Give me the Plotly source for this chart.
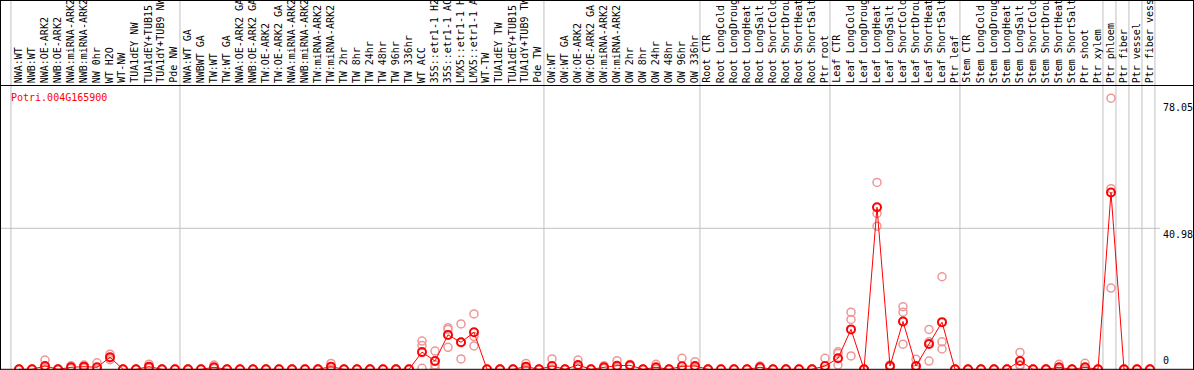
import plotly.graph_objects as go

# ---------------- data ----------------
categories = [
    "NWA:WT", "NWB:WT", "NWA:OE-ARK2", "NWB:OE-ARK2", "NWA:miRNA-ARK2", "NWB:miRNA-ARK2",
    "NW 0hr", "WT H2O", "WT-NW", "TUA1dEY NW", "TUA1dEY+TUB15 NW", "TUA1dY+TUB9 NW", "Pde NW",
    "NWA:WT GA", "NWBWT GA", "TW:WT", "TW:WT GA", "NWA:OE-ARK2 GA", "NWB:OE-ARK2 GA",
    "TW:OE-ARK2", "TW:OE-ARK2 GA", "NWA:miRNA-ARK2 GA", "NWB:miRNA-ARK2 GA", "TW:miRNA-ARK2",
    "TW:miRNA-ARK2", "TW 2hr", "TW 8hr", "TW 24hr", "TW 48hr", "TW 96hr", "TW 336hr", "WT ACC",
    "35S::etr1-1 H2O", "35S::etr1-1 ACC", "LMX5::etr1-1 H2O", "LMX5::etr1-1 ACC", "WT-TW",
    "TUA1dEY TW", "TUA1dEY+TUB15 TW", "TUA1dY+TUB9 TW", "Pde TW",
    "OW:WT", "OW:WT GA", "OW:OE-ARK2", "OW:OE-ARK2 GA", "OW:miRNA-ARK2", "OW:miRNA-ARK2",
    "OW 2hr", "OW 8hr", "OW 24hr", "OW 48hr", "OW 96hr", "OW 336hr",
    "Root CTR", "Root LongCold", "Root LongDrought", "Root LongHeat", "Root LongSalt",
    "Root ShortCold", "Root ShortDrought", "Root ShortHeat", "Root ShortSalt", "Ptr root",
    "Leaf CTR", "Leaf LongCold", "Leaf LongDrought", "Leaf LongHeat", "Leaf LongSalt",
    "Leaf ShortCold", "Leaf ShortDrought", "Leaf ShortHeat", "Leaf ShortSalt", "Ptr leaf",
    "Stem CTR", "Stem LongCold", "Stem LongDrought", "Stem LongHeat", "Stem LongSalt",
    "Stem ShortCold", "Stem ShortDrought", "Stem ShortHeat", "Stem ShortSalt", "Ptr shoot",
    "Ptr xylem", "Ptr phloem", "Ptr fiber", "Ptr vessel", "Ptr fiber vessel",
]

means = [
    0, 0, 0.96, 0, 0.58, 0.77, 0.58, 3.5, 0, 0, 0.77, 0, 0,
    0, 0, 0.58, 0, 0, 0, 0, 0, 0, 0, 0, 0.77, 0, 0, 0, 0, 0, 0, 5.0,
    2.4, 10.0, 7.85, 10.75, 0, 0, 0, 0.77, 0,
    0.96, 0, 1.25, 0, 0.58, 1.05, 1.15, 0, 0.58, 0, 0.87, 0.96,
    0, 0, 0, 0, 0.58, 0, 0, 0, 0, 0.96,
    3.2, 11.6, 0, 47.1, 0.96, 13.9, 0.96, 7.35, 13.7, 0,
    0, 0, 0, 0, 2.4, 0, 0, 0.58, 0, 0.58,
    0, 51.4, 0, 0, 0,
]

rep_a = [
    0, 0, 2.7, 0, 1.05, 1.25, 1.9, 4.4, 0, 0, 1.5, 0, 0,
    0, 0, 1.25, 0, 0, 0, 0, 0, 0, 0, 0, 1.7, 0, 0, 0, 0, 0, 0, 8.2,
    5.3, 12.1, 13.2, 16.1, 0, 0, 0, 1.7, 0,
    3.0, 0, 2.7, 0, 1.05, 2.5, 1.4, 0, 1.45, 0, 3.2, 2.2,
    0, 0, 0, 0, 0.96, 0, 0, 0, 0, 3.2,
    5.1, 16.6, 0, 54.3, 1.25, 18.2, 2.9, 11.6, 26.9, 0,
    0, 0, 0, 0, 4.9, 0, 0, 1.45, 0, 1.75,
    0, 78.8, 0, 0, 0,
]

rep_b = [
    0, 0, 0.2, 0, 0.5, 0.8, 0, 3.3, 0, 0, 0.5, 0, 0,
    0, 0, 0.3, 0, 0, 0, 0, 0, 0, 0, 0, 0.5, 0, 0, 0, 0, 0, 0, 6.9,
    1.25, 11.6, 7.85, 9.5, 0, 0, 0, 0.4, 0,
    0, 0, 0.8, 0, 0.5, 0.6, 1.1, 0, 0.3, 0, 0, 0.6,
    0, 0, 0, 0, 0.6, 0, 0, 0, 0, 0,
    4.6, 14.5, 0, 45.3, 1.0, 16.6, 0, 8.0, 8.0, 0,
    0, 0, 0, 0, 1.3, 0, 0, 0.3, 0, 0,
    0, 52.5, 0, 0, 0,
]

rep_c = [
    0, 0, 0, 0, 0.2, 0.3, 0, 2.8, 0, 0, 0.3, 0, 0,
    0, 0, 0.2, 0, 0, 0, 0, 0, 0, 0, 0, 0, 0, 0, 0, 0, 0, 0, 0.3,
    0.3, 6.4, 3.0, 6.8, 0, 0, 0, 0, 0,
    0, 0, 0.3, 0, 0.2, 0.3, 0.9, 0, 0, 0, 0, 0.2,
    0, 0, 0, 0, 0.2, 0, 0, 0, 0, 0,
    1.25, 3.9, 0, 41.6, 0.6, 7.3, 0, 2.4, 5.9, 0,
    0, 0, 0, 0, 1.0, 0, 0, 0, 0, 0,
    0, 23.6, 0, 0, 0,
]

gene_id = "Potri.004G165900"
y_tick_values = [78.05, 40.98, 0]
y_tick_labels = ["78.05", "40.98", "0"]
group_boundaries = [0, 13, 41, 53, 63, 73, 84, 85, 86, 87, 88]
label_chars = 14   # the reference shows only the first 14 characters of each name

# ---------------- layout geometry ----------------
W, H = 1194, 370
X0_PX, X_STEP = 19.0, 13.0          # pixel of category 0, pixels per category
Y0_PX, YTOP_PX, YTOP_VAL = 369.3, 87.3, 81.96
y_scale = (Y0_PX - YTOP_PX) / YTOP_VAL
x_range = [-X0_PX / X_STEP, (W - X0_PX) / X_STEP]
y_range = [-(H - Y0_PX) / y_scale, Y0_PX / y_scale]


def px_x(p):
    return p / W


def px_y(p):
    return 1 - p / H


MONO = "DejaVu Sans Mono"
xs = list(range(len(categories)))

fig = go.Figure()
for rep in (rep_a, rep_b, rep_c):
    fig.add_trace(go.Scatter(
        x=xs, y=rep, mode="markers",
        marker=dict(symbol="circle-open", size=8, color="#ec9898", line=dict(width=1.5)),
        hoverinfo="skip", showlegend=False,
    ))
fig.add_trace(go.Scatter(
    x=xs, y=means, mode="lines+markers",
    line=dict(color="#ff0000", width=1),
    marker=dict(symbol="circle-open", size=8, color="#ff0000", line=dict(width=2)),
    text=categories, hovertemplate="%{text}: %{y}<extra></extra>",
    showlegend=False,
))

shapes = []
for k in group_boundaries:
    shapes.append(dict(type="line", xref="x", yref="paper", x0=k - 0.62, x1=k - 0.62,
                       y0=0, y1=1, line=dict(color="#c0c0c0", width=1), layer="below"))
shapes.append(dict(type="line", xref="paper", yref="y", x0=0, x1=px_x(1160),
                   y0=40.98, y1=40.98, line=dict(color="#c0c0c0", width=1), layer="below"))
black = dict(color="#000000", width=1)
shapes += [
    dict(type="line", xref="paper", yref="paper", x0=0, x1=1, y0=px_y(0.5), y1=px_y(0.5), line=black),
    dict(type="line", xref="paper", yref="paper", x0=0, x1=1, y0=px_y(85.5), y1=px_y(85.5), line=black),
    dict(type="line", xref="paper", yref="paper", x0=px_x(0.5), x1=px_x(0.5), y0=0, y1=1, line=black),
    dict(type="line", xref="paper", yref="paper", x0=px_x(1193.5), x1=px_x(1193.5), y0=0, y1=1, line=black),
    dict(type="line", xref="paper", yref="y", x0=0, x1=1, y0=0, y1=0, line=black),
]

annotations = []
for i, name in enumerate(categories):
    annotations.append(dict(
        x=i, xref="x", y=px_y(84.3), yref="paper", text=name[:label_chars], textangle=-90,
        xanchor="center", yanchor="bottom", showarrow=False, borderpad=0, xshift=-1,
        font=dict(family=MONO, size=10, color="#000000"),
    ))
annotations.append(dict(
    x=px_x(10), xref="paper", y=px_y(91), yref="paper", text=gene_id,
    xanchor="left", yanchor="top", showarrow=False, borderpad=0,
    font=dict(family=MONO, size=10, color="#ff0000"),
))
for v, lab in zip(y_tick_values, y_tick_labels):
    annotations.append(dict(
        x=px_x(1162), xref="paper", y=v, yref="y", text=lab,
        xanchor="left", yanchor="bottom" if v == 0 else "top", showarrow=False, borderpad=0,
        yshift=2 if v == 0 else 0,
        font=dict(family=MONO, size=10, color="#000000"),
    ))

fig.update_layout(
    width=W, height=H, autosize=False,
    margin=dict(l=0, r=0, t=0, b=0, pad=0),
    paper_bgcolor="#ffffff", plot_bgcolor="#ffffff",
    xaxis=dict(range=x_range, visible=False, fixedrange=True),
    yaxis=dict(range=y_range, visible=False, fixedrange=True),
    shapes=shapes, annotations=annotations, showlegend=False,
)

fig.write_html("out.html",
               config={"displayModeBar": False},
               post_script="document.body.style.margin='0px';document.body.style.overflow='hidden';")
